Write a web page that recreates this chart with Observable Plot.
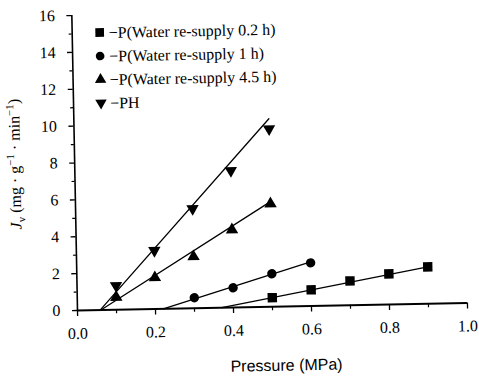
<!DOCTYPE html>
<html><head><meta charset="utf-8">
<script src="https://cdn.jsdelivr.net/npm/d3@7"></script>
<script src="https://cdn.jsdelivr.net/npm/@observablehq/plot@0.6"></script>
<style>body{margin:0;background:#fff;overflow:hidden} #chart{width:479px;height:379px}</style>
</head><body><div id="chart"></div>
<script>
// ---- data ----
const seriesNames = ["−P(Water re-supply 0.2 h)", "−P(Water re-supply 1 h)", "−P(Water re-supply 4.5 h)", "−PH"];
const sqX = [0.5, 0.6, 0.7, 0.8, 0.9];
const sqY = [0.49, 0.88, 1.32, 1.66, 2.0];
const ciX = [0.3, 0.4, 0.5, 0.6];
const ciY = [0.57, 1.07, 1.79, 2.34];
const trX = [0.1, 0.2, 0.3, 0.4, 0.5];
const trY = [0.68, 1.70, 2.80, 4.22, 5.59];
const phX = [0.1, 0.2, 0.3, 0.4, 0.5];
const phY = [1.31, 3.17, 5.40, 7.42, 9.65];
// fitted lines: x where J = 0, and end point
const fitStartX = [0.37, 0.22, 0.06, 0.058];
const fitEndX = [0.9, 0.6, 0.5, 0.5];
const fitEndY = [2.0, 2.4, 5.7, 10.2];
const xTicks = [0, 0.2, 0.4, 0.6, 0.8, 1.0];
const xMinor = [0.1, 0.3, 0.5, 0.7, 0.9];
const yTicks = [0, 2, 4, 6, 8, 10, 12, 14, 16];
const yMinor = [1, 3, 5, 7, 9, 11, 13, 15];
const xTitle = "Pressure (MPa)";

const toPts = (xs, ys) => xs.map((x, i) => ({x, y: ys[i]}));
const fits = fitStartX.map((x0, i) => [{x: x0, y: 0}, {x: fitEndX[i], y: fitEndY[i]}]);

const downTriangle = {
  draw(context, size) {
    const y = -Math.sqrt(size / (Math.sqrt(3) * 3));
    context.moveTo(0, -y * 2);
    context.lineTo(Math.sqrt(3) * y, y);
    context.lineTo(-Math.sqrt(3) * y, y);
    context.closePath();
  }
};
const symbols = ["square", "circle", "triangle", downTriangle];
const radii = [5.3, 4.7, 4.6, 4.6];
const pts = [toPts(sqX, sqY), toPts(ciX, ciY), toPts(trX, trY), toPts(phX, phY)];

const serif = "Liberation Serif, Times New Roman, serif";
const sans = "Liberation Sans, Arial, sans-serif";

const plot = Plot.plot({
  width: 479, height: 379,
  marginLeft: 77, marginRight: 12, marginTop: 15, marginBottom: 69,
  style: {fontFamily: serif, fontSize: "16px", background: "#fff", color: "#000", overflow: "visible"},
  x: {domain: [0, 1]},
  y: {domain: [0, 16]},
  marks: [
    Plot.axisY({ticks: yTicks, tickSize: 5, tickPadding: 12, label: null, fontSize: 16, fontFamily: serif, strokeWidth: 1.3}),
    Plot.axisY({ticks: yMinor, tickSize: 3, tickFormat: () => "", label: null, strokeWidth: 1.2}),
    Plot.axisX({ticks: xTicks, tickSize: 6, tickPadding: 11, tickFormat: d3.format(".1f"), label: null, fontSize: 16, fontFamily: serif, strokeWidth: 1.3}),
    Plot.axisX({ticks: xMinor, tickSize: 4, tickFormat: () => "", label: null, strokeWidth: 1.2}),
    Plot.ruleX([0], {stroke: "#000", strokeWidth: 1.6}),
    Plot.ruleY([0], {stroke: "#000", strokeWidth: 2.2}),
    ...fits.map(f => Plot.line(f, {x: "x", y: "y", stroke: "#000", strokeWidth: 1.3})),
    ...pts.map((p, i) => Plot.dot(p, {x: "x", y: "y", symbol: symbols[i], r: radii[i], fill: "#000", stroke: "none"})),
    Plot.text([xTitle], {frameAnchor: "bottom", lineAnchor: "middle", dx: 13, dy: 59, fontSize: 16, fontFamily: sans, fill: "#000"})
  ]
});

document.getElementById("chart").appendChild(plot);

const svg = d3.select(plot);

// legend
const lg = svg.append("g").attr("fill", "#000").attr("font-family", serif).attr("font-size", 16).attr("text-anchor", "start");
const d3syms = [d3.symbolSquare, d3.symbolCircle, d3.symbolTriangle, downTriangle];
seriesNames.forEach((name, i) => {
  const y = 33 + i * 23.5;
  lg.append("path").attr("transform", `translate(105,${y})`)
    .attr("d", d3.symbol().type(d3syms[i]).size(Math.PI * radii[i] * radii[i] * 0.85)());
  lg.append("text").attr("x", 114).attr("y", y).attr("dy", "0.35em").attr("text-anchor", "start").text(name);
});

// y-axis title
const yl = svg.append("text")
  .attr("transform", "translate(23,163) rotate(-90)")
  .attr("text-anchor", "middle")
  .attr("font-family", serif).attr("font-size", 16).attr("fill", "#000");
yl.append("tspan").attr("font-style", "italic").text("J");
yl.append("tspan").attr("font-size", 11).attr("dy", 4).text("v");
yl.append("tspan").attr("dy", -4).text(" (mg · g");
yl.append("tspan").attr("font-size", 11).attr("dy", -6).text("−1");
yl.append("tspan").attr("dy", 6).text(" · min");
yl.append("tspan").attr("font-size", 11).attr("dy", -6).text("−1");
yl.append("tspan").attr("dy", 6).text(")");

// the scanned reference is tilted slightly; match it
plot.style.transformOrigin = "77px 310px";
plot.style.transform = "rotate(-1.1deg)";
</script>
</body></html>
